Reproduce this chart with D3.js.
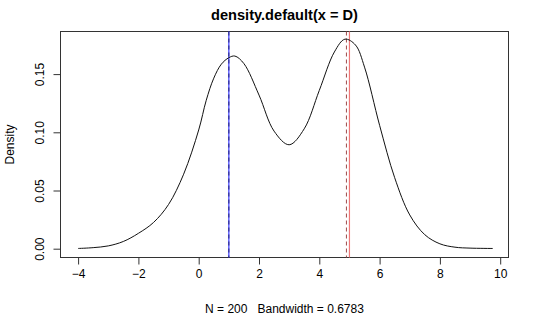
<!DOCTYPE html>
<html><head><meta charset="utf-8">
<script src="https://cdn.jsdelivr.net/npm/d3@7"></script>
<style>body{margin:0;background:#fff}svg{display:block}text{font-family:"Liberation Sans",Arial,sans-serif;fill:#000}</style>
</head><body><svg id="c" width="540" height="333"></svg>
<script>
const title = "density.default(x = D)";
const subtitle = "N = 200   Bandwidth = 0.6783";
const yLabel = "Density";
const xTicks = [-4, -2, 0, 2, 4, 6, 8, 10];
const yTicks = [0, 0.05, 0.10, 0.15];
const yTickLabels = ["0.00", "0.05", "0.10", "0.15"];
const densX = [-4.0,-3.5,-3.0,-2.5,-2.0,-1.5,-1.0,-0.5,0,0.25,0.5,0.75,1.0,1.2,1.5,2.0,2.5,3.0,3.5,4.0,4.5,4.85,5.2,5.5,6.0,6.5,7.0,7.5,8.0,8.5,9.0,9.75];
const densY = [0.0002,0.0009,0.0024,0.0062,0.0132,0.0225,0.038,0.064,0.102,0.1275,0.1465,0.1585,0.1641,0.1655,0.159,0.132,0.101,0.0893,0.103,0.136,0.169,0.180,0.175,0.156,0.106,0.061,0.029,0.012,0.0042,0.0013,0.0005,0.0002];
const vSolid = [{x: 1.0, color: "#3a3aff"}, {x: 5.0, color: "#f07878"}];
const vDashed = [{x: 1.0, color: "#22227a"}, {x: 4.9, color: "#a04a4a"}];

const svg = d3.select("#c");
const L = 60.5, R = 508.5, T = 31.5, B = 257.5;
const x = d3.scaleLinear().domain([0, 2]).range([198.7, 259.0]);
const y = d3.scaleLinear().domain([0, 0.05]).range([248.7, 190.5]);

svg.append("rect").attr("x", L).attr("y", T).attr("width", R - L).attr("height", B - T)
  .attr("fill", "none").attr("stroke", "#333").attr("stroke-width", 1);

const xa = svg.append("g").attr("transform", `translate(0,${B})`)
  .call(d3.axisBottom(x).tickValues(xTicks).tickSize(7).tickPadding(5).tickFormat(d3.format("d")));
xa.select(".domain").attr("d", `M${x(-4)},0H${x(10)}`).attr("stroke", "#333");
xa.selectAll("line").attr("stroke", "#333");
xa.selectAll("text").attr("font-size", 12).attr("font-family", "Liberation Sans, Arial, sans-serif").attr("dy", "0.71em").attr("y", 12);

const ya = svg.append("g").attr("transform", `translate(${L},0)`)
  .call(d3.axisLeft(y).tickValues(yTicks).tickSize(7).tickFormat((d, i) => yTickLabels[i]));
ya.select(".domain").attr("d", `M0,${y(0)}V${y(0.15)}`).attr("stroke", "#333");
ya.selectAll("line").attr("stroke", "#333");
ya.selectAll("text").attr("font-size", 12).attr("font-family", "Liberation Sans, Arial, sans-serif")
  .attr("x", null).attr("dy", null)
  .attr("text-anchor", "middle")
  .attr("transform", "translate(-17,0) rotate(-90)");

vSolid.forEach(v => svg.append("line").attr("x1", x(v.x)).attr("x2", x(v.x)).attr("y1", T).attr("y2", B)
  .attr("stroke", v.color).attr("stroke-width", 1.2));
vDashed.forEach(v => svg.append("line").attr("x1", x(v.x)).attr("x2", x(v.x)).attr("y1", T).attr("y2", B)
  .attr("stroke", v.color).attr("stroke-width", 1).attr("stroke-dasharray", "4,3"));

const pts = densX.map((d, i) => [d, densY[i]]);
svg.append("path").datum(pts)
  .attr("d", d3.line().x(d => x(d[0])).y(d => y(d[1])).curve(d3.curveCatmullRom.alpha(0.5)))
  .attr("fill", "none").attr("stroke", "#111").attr("stroke-width", 1);

svg.append("text").attr("x", (L + R) / 2).attr("y", 20).attr("text-anchor", "middle")
  .attr("font-size", 14.6).attr("font-weight", "bold").text(title);
svg.append("text").attr("x", (L + R) / 2).attr("y", 313).attr("text-anchor", "middle")
  .attr("font-size", 12).style("white-space", "pre").text(subtitle);
svg.append("text").attr("transform", `translate(14,${(T + B) / 2}) rotate(-90)`).attr("text-anchor", "middle")
  .attr("font-size", 12).text(yLabel);
</script></body></html>
